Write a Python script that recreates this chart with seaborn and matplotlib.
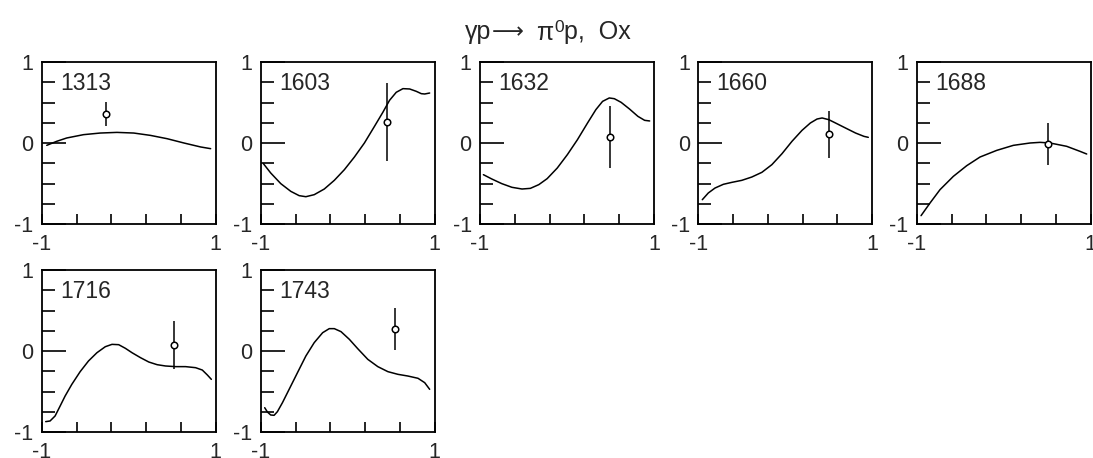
import numpy as np
import pandas as pd
import matplotlib
matplotlib.use("Agg")
import matplotlib.pyplot as plt
import seaborn as sns

# ---------------- data ----------------
energies = ["1313", "1603", "1632", "1660", "1688", "1716", "1743"]

x_1313 = [-0.942, -0.827, -0.712, -0.519, -0.327, -0.135, 0.058, 0.25, 0.442, 0.635, 0.827, 0.942]
y_1313 = [-0.029, 0.021, 0.062, 0.103, 0.123, 0.131, 0.123, 0.094, 0.053, 0.0, -0.049, -0.070]

x_1603 = [-0.969, -0.885, -0.769, -0.654, -0.558, -0.481, -0.385, -0.269, -0.154, -0.038, 0.077, 0.192,
          0.308, 0.404, 0.481, 0.558, 0.635, 0.712, 0.788, 0.846, 0.885, 0.942]
y_1603 = [-0.255, -0.370, -0.502, -0.597, -0.650, -0.663, -0.638, -0.568, -0.461, -0.329, -0.173, 0.0,
          0.206, 0.379, 0.527, 0.626, 0.671, 0.667, 0.638, 0.609, 0.605, 0.617]

x_1632 = [-0.961, -0.865, -0.749, -0.633, -0.517, -0.421, -0.324, -0.228, -0.112, 0.004, 0.120, 0.236,
          0.332, 0.409, 0.486, 0.544, 0.622, 0.718, 0.815, 0.892, 0.950]
y_1632 = [-0.391, -0.444, -0.502, -0.547, -0.568, -0.560, -0.514, -0.440, -0.309, -0.144, 0.041, 0.247,
          0.412, 0.514, 0.556, 0.547, 0.502, 0.420, 0.329, 0.280, 0.272]

x_1660 = [-0.954, -0.885, -0.808, -0.712, -0.615, -0.500, -0.385, -0.269, -0.154, -0.038, 0.077, 0.192,
          0.288, 0.365, 0.423, 0.500, 0.577, 0.692, 0.808, 0.904, 0.954]
y_1660 = [-0.700, -0.617, -0.556, -0.510, -0.486, -0.461, -0.420, -0.362, -0.267, -0.132, 0.021, 0.156,
          0.247, 0.296, 0.309, 0.288, 0.247, 0.185, 0.123, 0.082, 0.070]

x_1688 = [-0.950, -0.847, -0.732, -0.579, -0.425, -0.272, -0.080, 0.111, 0.303, 0.418, 0.533, 0.724, 0.877, 0.954]
y_1688 = [-0.897, -0.741, -0.576, -0.412, -0.280, -0.173, -0.091, -0.029, 0.0, 0.008, 0.0, -0.041, -0.103, -0.136]

x_1716 = [-0.954, -0.904, -0.846, -0.788, -0.731, -0.654, -0.558, -0.462, -0.365, -0.269, -0.192, -0.115,
          -0.038, 0.038, 0.135, 0.231, 0.327, 0.423, 0.538, 0.654, 0.769, 0.846, 0.904, 0.950]
y_1716 = [-0.872, -0.864, -0.802, -0.679, -0.556, -0.412, -0.255, -0.123, -0.021, 0.053, 0.082, 0.078,
          0.033, -0.021, -0.082, -0.136, -0.169, -0.185, -0.193, -0.193, -0.206, -0.235, -0.296, -0.350]

x_1743 = [-0.954, -0.923, -0.885, -0.846, -0.808, -0.750, -0.673, -0.577, -0.481, -0.385, -0.288, -0.212,
          -0.154, -0.077, 0.019, 0.115, 0.231, 0.346, 0.462, 0.577, 0.692, 0.808, 0.885, 0.942]
y_1743 = [-0.700, -0.753, -0.790, -0.794, -0.749, -0.638, -0.473, -0.267, -0.062, 0.103, 0.226, 0.276,
          0.276, 0.239, 0.144, 0.029, -0.103, -0.193, -0.255, -0.288, -0.309, -0.337, -0.391, -0.473]

curve_x = [x_1313, x_1603, x_1632, x_1660, x_1688, x_1716, x_1743]
curve_y = [y_1313, y_1603, y_1632, y_1660, y_1688, y_1716, y_1743]

point_x = [-0.26, 0.454, 0.490, 0.50, 0.513, 0.519, 0.538]
point_y = [0.36, 0.259, 0.078, 0.107, -0.016, 0.078, 0.276]
point_err = [0.145, 0.484, 0.383, 0.292, 0.26, 0.298, 0.261]

title_head = "γp"
title_arrow = "⟶"
title_mid = "  π"
title_sup = "0"
title_tail = "p,  Ox"

# ---------------- style ----------------
sns.set_style("ticks")
plt.rcParams["font.family"] = ["Liberation Sans", "DejaVu Sans"]

fig = plt.figure(figsize=(10.93, 4.58), dpi=100)
W, H = 1093.0, 458.0

ax_w = 174.0 / W
ax_h = 162.0 / H
lefts_px = [41.7, 260.7, 480.0, 698.3, 916.7]
row_bottoms_px = [224.0, 432.0]

axes = []
for i, lab in enumerate(energies):
    row = i // 5
    col = i % 5
    left = lefts_px[col] / W
    bottom = 1 - row_bottoms_px[row] / H
    ax = fig.add_axes([left, bottom, ax_w, ax_h])
    axes.append(ax)

    df = pd.DataFrame({"x": curve_x[i], "y": curve_y[i]})
    sns.lineplot(data=df, x="x", y="y", ax=ax, color="black", linewidth=1.1,
                 sort=False, estimator=None)
    ax.errorbar([point_x[i]], [point_y[i]], yerr=[point_err[i]], fmt="none",
                ecolor="black", elinewidth=1.1, capsize=0, zorder=3)
    sns.scatterplot(x=[point_x[i]], y=[point_y[i]], ax=ax, marker="o", s=22,
                    facecolor="white", edgecolor="black", linewidth=1.1, zorder=4)

    ax.set_xlim(-1, 1)
    ax.set_ylim(-1, 1)
    ax.set_xlabel("")
    ax.set_ylabel("")
    ax.set_xticks([-1, 1])
    ax.set_xticklabels(["-1", "1"])
    ax.set_xticks([-0.6, -0.2, 0.2, 0.6], minor=True)
    ax.set_yticks([-1, 0, 1])
    ax.set_yticklabels(["-1", "0", "1"])
    ax.set_yticks([-0.75, -0.5, -0.25, 0.25, 0.5, 0.75], minor=True)
    ax.tick_params(axis="x", which="both", direction="in", top=False, length=7,
                   width=1.2, pad=7, labelsize=15.5, color="black")
    ax.tick_params(axis="y", which="major", direction="in", right=False, length=17,
                   width=1.2, pad=6, labelsize=15.5, color="black")
    ax.tick_params(axis="y", which="minor", direction="in", right=False, length=9,
                   width=1.2, color="black")
    for s in ax.spines.values():
        s.set_visible(True)
        s.set_linewidth(1.3)
        s.set_color("black")
    ax.text(0.105, 0.87, lab, transform=ax.transAxes, fontsize=16.5,
            ha="left", va="center")

# title built from pieces (arrow sized separately, superscript raised)
yb = 1 - 39.5 / H
t1 = fig.text(465 / W, yb, title_head, ha="left", va="baseline", fontsize=18)
ta = axes[0].annotate(title_arrow, xy=(1.0, yb + 1.5 / H), xycoords=(t1, "figure fraction"),
                      ha="left", va="baseline", fontsize=16, annotation_clip=False)
tm = axes[0].annotate(title_mid, xy=(1.0, yb), xycoords=(ta, "figure fraction"),
                      ha="left", va="baseline", fontsize=18, annotation_clip=False)
t2 = axes[0].annotate(title_sup, xy=(1.0, yb + 8 / H), xycoords=(tm, "figure fraction"),
                      ha="left", va="baseline", fontsize=12.5, annotation_clip=False)
t3 = axes[0].annotate(title_tail, xy=(1.0, yb), xycoords=(t2, "figure fraction"),
                      ha="left", va="baseline", fontsize=18, annotation_clip=False)

fig.savefig("out.png", dpi=100)
